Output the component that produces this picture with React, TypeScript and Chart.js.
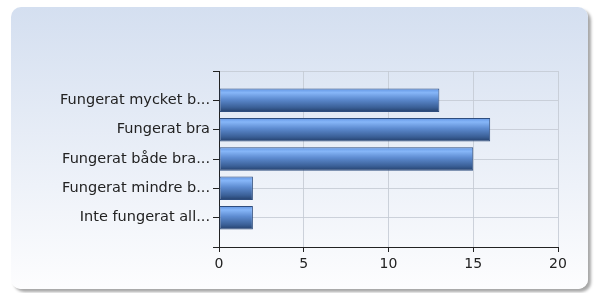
import React, { useEffect, useRef } from "react";
import { Chart, registerables } from "chart.js";

Chart.register(...registerables);

const categories = [
  "Fungerat mycket b...",
  "Fungerat bra",
  "Fungerat både bra...",
  "Fungerat mindre b...",
  "Inte fungerat all...",
];
const values = [13, 16, 15, 2, 2];
const xTicks = [0, 5, 10, 15, 20];

export default function App() {
  const ref = useRef<HTMLCanvasElement | null>(null);

  useEffect(() => {
    if (!ref.current) return;
    const labels = ["", ...categories, ""];
    const data = [null, ...values, null];
    const yFont = { family: "DejaVu Sans", size: 14.5 };
    const xFont = { family: "DejaVu Sans", size: 14 };
    const chart = new Chart(ref.current, {
      type: "bar",
      data: {
        labels,
        datasets: [
          {
            data: data as any,
            borderColor: "#2e4d7e",
            borderWidth: 1,
            borderSkipped: false,
            categoryPercentage: 1,
            barPercentage: 0.8,
            backgroundColor: (c: any) => {
              const chart = c.chart;
              const ys = chart.scales && chart.scales.y;
              if (!ys || c.dataIndex == null) return "#5b8fd9";
              const yc = ys.getPixelForValue(c.dataIndex);
              if (!isFinite(yc)) return "#5b8fd9";
              const h = 12;
              const g = chart.ctx.createLinearGradient(0, yc - h, 0, yc + h);
              g.addColorStop(0, "#5e92e2");
              g.addColorStop(0.18, "#86b6f8");
              g.addColorStop(0.45, "#5d8bd0");
              g.addColorStop(0.8, "#3a5f96");
              g.addColorStop(1, "#223d68");
              return g;
            },
          },
        ],
      },
      options: {
        indexAxis: "y",
        animation: false,
        responsive: false,
        maintainAspectRatio: false,
        layout: { padding: { top: 71, right: 36, left: 0, bottom: 0 } },
        plugins: { legend: { display: false }, tooltip: { enabled: false } },
        scales: {
          x: {
            type: "linear",
            min: 0,
            max: 20,
            afterBuildTicks: (s: any) => {
              s.ticks = xTicks.map((v) => ({ value: v }));
            },
            afterFit: (s: any) => {
              s.height = 46;
            },
            grid: {
              color: "rgba(196,202,212,0.85)",
              tickColor: "#222",
              tickLength: 5,
              drawTicks: true,
            },
            border: { color: "#222", width: 1 },
            ticks: { font: xFont, color: "#222", padding: 4 },
          },
          y: {
            type: "category",
            offset: false,
            afterFit: (s: any) => {
              s.width = 219;
            },
            grid: {
              offset: false,
              color: "rgba(196,202,212,0.85)",
              tickColor: "#222",
              tickLength: 6,
            },
            border: { color: "#222", width: 1 },
            ticks: { font: yFont, color: "#222", padding: 3, autoSkip: false },
          },
        },
      },
    });
    return () => chart.destroy();
  }, []);

  return (
    <div style={{ position: "fixed", left: 0, top: 0, width: 594, height: 293 }}>
      <div
        style={{
          position: "absolute",
          left: 11,
          top: 7,
          width: 577,
          height: 282,
          borderRadius: 10,
          background: "linear-gradient(#d4dff0, #fdfdfe)",
          boxShadow: "3px 3px 3px rgba(0,0,0,0.35)",
        }}
      />
      <canvas
        ref={ref}
        width={594}
        height={293}
        style={{ position: "absolute", left: 0, top: 0, width: 594, height: 293 }}
      />
    </div>
  );
}
